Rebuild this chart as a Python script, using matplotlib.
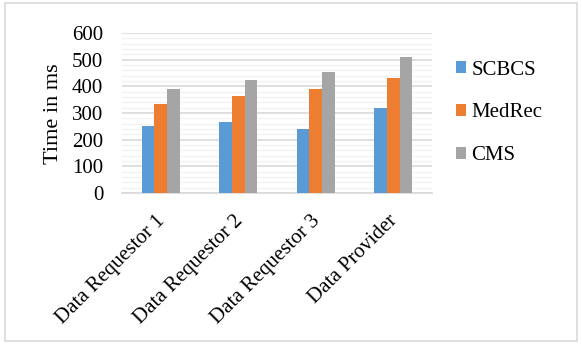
import numpy as np
import matplotlib.pyplot as plt
import matplotlib.transforms as mtransforms
from matplotlib.patches import Rectangle

plt.rcParams['font.family'] = ['Liberation Serif', 'DejaVu Serif']

categories = ['Data Requestor 1', 'Data Requestor 2', 'Data Requestor 3', 'Data Provider']
series_names = ['SCBCS', 'MedRec', 'CMS']
scbcs = [250, 265, 240, 320]
medrec = [335, 365, 390, 430]
cms = [390, 425, 455, 510]
colors = ['#5b9bd5', '#ed7d31', '#a5a5a5']

W, H = 582, 344
fig = plt.figure(figsize=(W / 100, H / 100), dpi=100)
fig.patches.append(Rectangle((0.009, 0.009), 0.982, 0.982, transform=fig.transFigure,
                             fill=False, edgecolor='#d9d9d9', linewidth=1.2))

ax = fig.add_axes([122 / W, 1 - 193 / H, 310 / W, 160 / H])
x = np.arange(len(categories))
w = 0.164
for i, (vals, name, c) in enumerate(zip([scbcs, medrec, cms], series_names, colors)):
    ax.bar(x + (i - 1) * w, vals, width=w, color=c, label=name, zorder=3)

ax.set_xlim(-0.5, 3.5)
ax.set_ylim(0, 600)
ax.set_yticks(np.arange(0, 601, 100))
ax.set_yticks(np.arange(0, 601, 20), minor=True)
ax.grid(axis='y', which='major', color='#d9d9d9', linewidth=1.2, zorder=0)
ax.grid(axis='y', which='minor', color='#f2f2f2', linewidth=1.0, zorder=0)
for s in ['top', 'right', 'left']:
    ax.spines[s].set_visible(False)
ax.spines['bottom'].set_color('#d9d9d9')
ax.spines['bottom'].set_linewidth(1.2)
ax.tick_params(which='both', length=0)
ax.tick_params(axis='y', labelsize=15, pad=13.5)
ax.set_xticks(x)
ax.set_xticklabels(categories, rotation=45, ha='right', va='top',
                   rotation_mode='anchor', fontsize=15)
ax.tick_params(axis='x', pad=13.5)
# nudge the slanted labels a little to the left
shift = mtransforms.ScaledTranslation(-5 / 100, 0, fig.dpi_scale_trans)
for lbl in ax.get_xticklabels():
    lbl.set_transform(lbl.get_transform() + shift)

fig.text(53 / W, 1 - 114 / H, 'Time in ms', rotation=90, ha='center', va='center',
         fontsize=16)

ax.legend(loc='center left', bbox_to_anchor=(456 / W, 1 - 113 / H),
          bbox_transform=fig.transFigure, frameon=False, fontsize=15, borderpad=0,
          borderaxespad=0, handlelength=0.5, handleheight=0.5, handletextpad=0.25,
          labelspacing=1.15)

fig.savefig('out.png', dpi=100)
